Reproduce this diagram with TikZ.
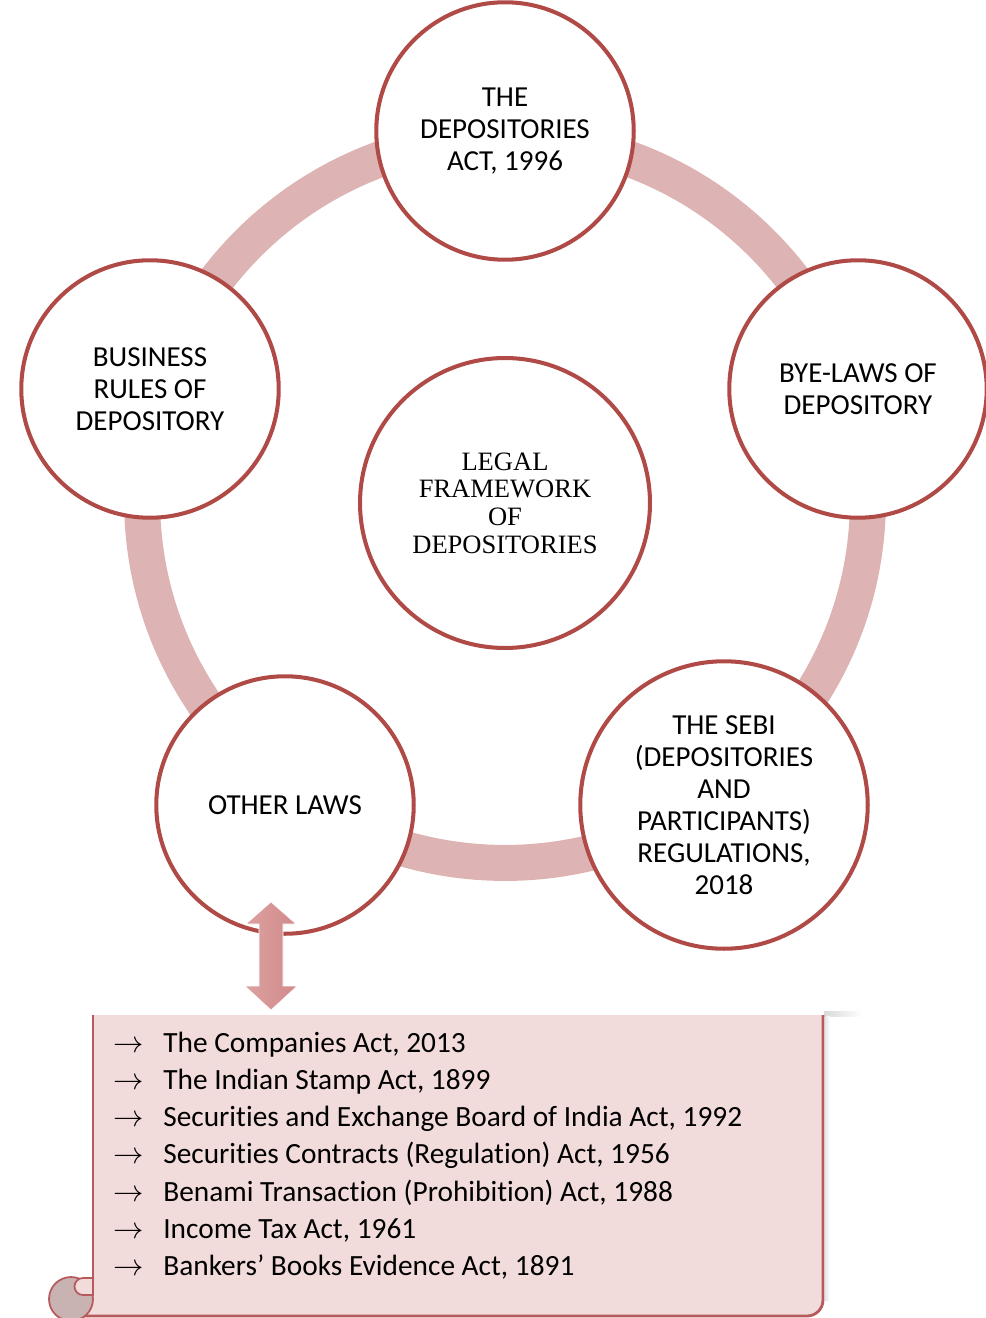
\documentclass[tikz,border=0pt]{standalone}
\usepackage{fontspec}
\setmainfont{Carlito}[Ligatures=NoCommon, Contextuals=NoAlternate]
\newfontfamily\hubfont{Liberation Serif}
\usetikzlibrary{positioning}
\definecolor{ringpink}{HTML}{DDB3B3}
\definecolor{lawred}{HTML}{B04A47}
\definecolor{scrollpink}{HTML}{F2DCDB}
\definecolor{scrolledge}{HTML}{B65A5E}
\definecolor{curlgray}{HTML}{C8B2B2}
\definecolor{arrowlight}{HTML}{F3CBCB}
\definecolor{arrowside}{HTML}{DDA1A1}
\definecolor{arrowdark}{HTML}{D08A8A}
\tikzset{
	lawcircle/.style={circle, draw=lawred, line width=2.3pt, fill=white, minimum size=5.15cm,
	  inner sep=0pt, align=center, font=\fontsize{16.5}{18.2}\selectfont}
}
\tikzset{
	hubcircle/.style={lawcircle, minimum size=5.8cm, font=\hubfont\fontsize{15.1}{15.8}\selectfont}
}
\tikzset{
	lawtext/.style={anchor=base west, inner sep=0pt, font=\fontsize{16.7}{18}\selectfont}
}
\newcommand{\lawarrow}{$\rightarrow$}

\begin{document}
\begin{tikzpicture}[x=0.02cm, y=-0.02cm, >=stealth]
      \useasboundingbox (0,0) rectangle (986,1318);
      % ring behind the circles
      \draw[ringpink, line width=0.72cm] (505,500) circle[radius=7.26cm];
      % the five sources and the hub
      \node[lawcircle] (act) at (505,131) {THE\\DEPOSITORIES\\ACT, 1996};
      \node[lawcircle] (byelaws) at (858,389) {BYE-LAWS OF\\DEPOSITORY};
      \node[lawcircle] (rules) at (150,389) {BUSINESS\\RULES OF\\DEPOSITORY};
      \node[lawcircle] (other) at (285,805) {OTHER LAWS};
      \node[lawcircle, minimum size=5.75cm] (sebi) at (724,805)
        {THE SEBI\\(DEPOSITORIES\\AND\\PARTICIPANTS)\\REGULATIONS,\\2018};
      \node[hubcircle] (hub) at (505,503) {LEGAL\\FRAMEWORK\\OF\\DEPOSITORIES};
      % scroll with the list of other laws
      \shade[left color=gray!30, right color=white] (824,1011) rectangle (862,1016);
      \shade[left color=gray!20, right color=white] (825,1016) rectangle (830,1300);
      \fill[scrollpink] (93,1015) -- (823,1015) -- (823,1300)
        arc[start angle=0, end angle=-90, radius=0.32cm] -- (72,1316) -- (72,1296) -- (93,1296) -- cycle;
      \draw[scrolledge, line width=1.6pt] (823,1015) -- (823,1300)
        arc[start angle=0, end angle=-90, radius=0.32cm] -- (72,1316);
      \filldraw[fill=curlgray, draw=scrolledge, line width=1pt] (71,1299) circle[radius=0.44cm];
      \filldraw[fill=scrollpink, draw=scrolledge, line width=1pt] (93,1278) -- (83,1278)
        arc[start angle=90, end angle=270, radius=0.17cm] -- (93,1295);
      \draw[scrolledge, line width=1.6pt] (93,1015) -- (93,1296);
      \foreach \law [count=\i] in {{The Companies Act, 2013}, {The Indian Stamp Act, 1899},
          {Securities and Exchange Board of India Act, 1992}, {Securities Contracts (Regulation) Act, 1956},
          {Benami Transaction (Prohibition) Act, 1988}, {Income Tax Act, 1961},
          {Bankers’ Books Evidence Act, 1891}}{
        \node[lawtext] (arr\i) at (113,{1014.7+37.3*\i}) {\lawarrow};
        \node[lawtext] (law\i) at (163,{1014.7+37.3*\i}) {\law};
      }
      % double arrow from other laws down to the scroll
      \shade[left color=arrowside, middle color=arrowlight, right color=arrowdark,
        draw=white, line width=0.3pt]
        (271,902) -- (296,924) -- (283,924) -- (283,986) -- (297,986) -- (271,1010)
        -- (245,986) -- (259,986) -- (259,924) -- (246,924) -- cycle;
    \end{tikzpicture}
\end{document}
